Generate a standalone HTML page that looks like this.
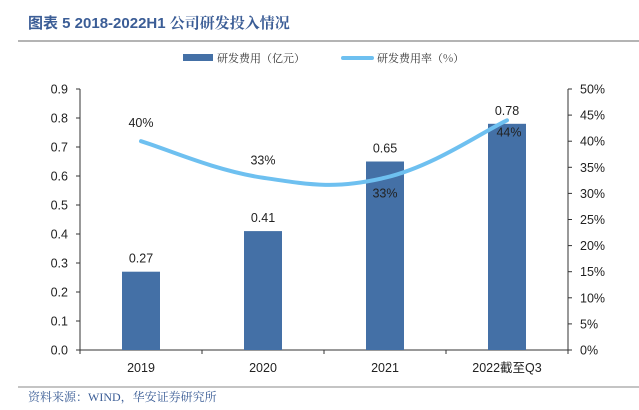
<!DOCTYPE html>
<html><head><meta charset="utf-8"><style>
body{margin:0;background:#fff;width:639px;height:405px;overflow:hidden;font-family:"Liberation Sans","Noto Sans CJK SC",sans-serif}
</style></head><body>
<svg width="639" height="405" xmlns="http://www.w3.org/2000/svg">
<text x="28" y="28" font-size="15" font-weight="bold" fill="#3b5d96" font-family="Liberation Sans, Noto Sans CJK SC, sans-serif">图表 5  2018-2022H1 <tspan font-family="Noto Serif CJK SC, serif" font-weight="bold">公司研发投入情况</tspan></text>
<line x1="18" y1="41" x2="639" y2="41" stroke="#888" stroke-width="1.2"/>
<g>
<rect x="183" y="54" width="30" height="7" fill="#4470a6"/>
<text x="217" y="62" font-size="11" fill="#333" font-family="Noto Serif CJK SC, serif">研发费用（亿元）</text>
<line x1="343" y1="58" x2="372" y2="58" stroke="#6ec0f0" stroke-width="4" stroke-linecap="round"/>
<text x="377" y="62" font-size="11" fill="#333" font-family="Noto Serif CJK SC, serif">研发费用率（%）</text>
</g>
<g id="plot"></g>
<line x1="18" y1="387" x2="639" y2="387" stroke="#888" stroke-width="1"/>
<text x="28" y="401" font-size="12" fill="#3b5d96" font-family="Liberation Serif, Noto Serif CJK SC, serif">资料来源：WIND，华安证券研究所</text>
</svg>
<script>
const categories=["2019","2020","2021","2022截至Q3"];
const rdExpense=[0.27,0.41,0.65,0.78];
const rdRate=[40,33,33,44];
const leftTicks=[0,0.1,0.2,0.3,0.4,0.5,0.6,0.7,0.8,0.9];
const rightTicks=[0,5,10,15,20,25,30,35,40,45,50];

const NS="http://www.w3.org/2000/svg";
const g=document.getElementById('plot');
const X0=80,X1=568,Y0=350,Y1=89;
const step=(X1-X0)/categories.length;
const xc=i=>X0+step*(i+0.5);
const yL=v=>Y0-(v/0.9)*(Y0-Y1);
const yR=v=>Y0-(v/50)*(Y0-Y1);
function el(t,a,txt){const e=document.createElementNS(NS,t);for(const k in a)e.setAttribute(k,a[k]);if(txt!==undefined)e.textContent=txt;g.appendChild(e);return e;}
let e;
e=el('line',{x1:X0,y1:Y1,x2:X0,y2:Y0,stroke:'#333','stroke-width':1});


e=el('line',{x1:X1,y1:Y1,x2:X1,y2:Y0,stroke:'#333','stroke-width':1});


e=el('line',{x1:X0,y1:Y0,x2:X1,y2:Y0,stroke:'#333','stroke-width':1});


leftTicks.forEach(v=>{
  el('line',{x1:X0-4,y1:yL(v),x2:X0,y2:yL(v),stroke:'#333'});
  e=el('text',{x:X0-12,y:yL(v)+4.5,'font-size':12.5,'text-anchor':'end',fill:'#222'},v.toFixed(1));
  
  
});
rightTicks.forEach(v=>{
  el('line',{x1:X1,y1:yR(v),x2:X1+4,y2:yR(v),stroke:'#333'});
  e=el('text',{x:X1+12,y:yR(v)+4.5,'font-size':12.5,fill:'#222'},v+'%');
  
  
});
for(let i=0;i<=categories.length;i++)el('line',{x1:X0+step*i,y1:Y0,x2:X0+step*i,y2:Y0+4,stroke:'#333'});
categories.forEach((c,i)=>{
  e=el('text',{x:xc(i),y:Y0+22,'font-size':12.5,'text-anchor':'middle',fill:'#222'},c);
  
  
});
const bw=38;
rdExpense.forEach((v,i)=>{
  e=el('rect',{x:xc(i)-bw/2,y:yL(v),width:bw,height:Y0-yL(v),fill:'#4470a6'});
  
  
  e=el('text',{x:xc(i),y:yL(v)-9,'font-size':12.5,'text-anchor':'middle',fill:'#222'},v.toFixed(2));
  
  
});
// smooth line (Catmull-Rom)
const pts=rdRate.map((v,i)=>[xc(i),yR(v)]);
let d='M'+pts[0][0]+','+pts[0][1];
for(let i=0;i<pts.length-1;i++){
  const p0=pts[i-1]||pts[i],p1=pts[i],p2=pts[i+1],p3=pts[i+2]||p2;
  const t=0.5/3*1.2;
  const c1=[p1[0]+(p2[0]-p0[0])*t,p1[1]+(p2[1]-p0[1])*t];
  const c2=[p2[0]-(p3[0]-p1[0])*t,p2[1]-(p3[1]-p1[1])*t];
  d+=` C${c1[0]},${c1[1]} ${c2[0]},${c2[1]} ${p2[0]},${p2[1]}`;
}
e=el('path',{d:d,fill:'none',stroke:'#6ec0f0','stroke-width':4,'stroke-linecap':'round'});


const offs=[-18,-17,16,12];
rdRate.forEach((v,i)=>{
  e=el('text',{x:xc(i)+(i==3?2:0),y:yR(v)+offs[i]+4,'font-size':12.5,'text-anchor':'middle',fill:'#222'},v+'%');
  
  
});
</script>
</body></html>
